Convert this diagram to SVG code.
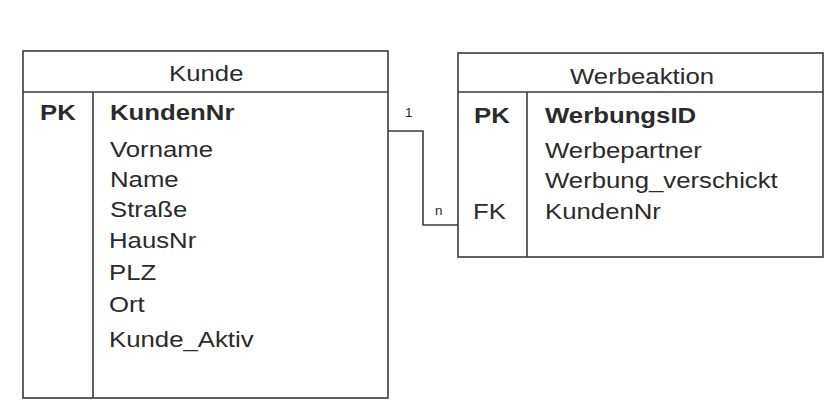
<svg xmlns="http://www.w3.org/2000/svg" width="837" height="410" viewBox="0 0 837 410">
<style>
.box{fill:#fff;stroke:#3a3a3a;stroke-width:1.6}
.ln{stroke:#3a3a3a;stroke-width:1.6;fill:none}
text{font-family:"Liberation Sans",Arial,sans-serif;fill:#2b2b2b;font-size:23px}
.b{font-weight:bold}
.s{font-size:12px}
</style>
<rect width="837" height="410" fill="#fff"/>
<g id="kunde">
<rect class="box" x="23" y="51" width="365" height="347"/>
<line class="ln" x1="23" y1="92" x2="388" y2="92"/>
<line class="ln" x1="93" y1="92" x2="93" y2="398"/>
<text transform="translate(169,81) scale(1.12,1)">Kunde</text>
<text class="b" transform="translate(40,120) scale(1.12,1)">PK</text>
<text class="b" transform="translate(110,120) scale(1.12,1)">KundenNr</text>
<text transform="translate(110,157) scale(1.12,1)">Vorname</text>
<text transform="translate(110,187) scale(1.12,1)">Name</text>
<text transform="translate(110,217) scale(1.12,1)">Straße</text>
<text transform="translate(109,248) scale(1.12,1)">HausNr</text>
<text transform="translate(109,280) scale(1.12,1)">PLZ</text>
<text transform="translate(109,312) scale(1.12,1)">Ort</text>
<text transform="translate(109,347) scale(1.12,1)">Kunde_Aktiv</text>
</g>
<g id="werbeaktion">
<rect class="box" x="458" y="53" width="365" height="204"/>
<line class="ln" x1="458" y1="92" x2="823" y2="92"/>
<line class="ln" x1="527" y1="92" x2="527" y2="257"/>
<text transform="translate(570,84) scale(1.12,1)">Werbeaktion</text>
<text class="b" transform="translate(474,123) scale(1.12,1)">PK</text>
<text class="b" transform="translate(545,123) scale(1.12,1)">WerbungsID</text>
<text transform="translate(545,158) scale(1.12,1)">Werbepartner</text>
<text transform="translate(545,188) scale(1.12,1)">Werbung_verschickt</text>
<text transform="translate(473,219) scale(1.12,1)">FK</text>
<text transform="translate(545,219) scale(1.12,1)">KundenNr</text>
</g>
<g id="connectors">
<polyline class="ln" points="388,131 423,131 423,225 458,225"/>
<text class="s" transform="translate(405,117) scale(1.12,1)">1</text>
<text class="s" transform="translate(435,215) scale(1.12,1)">n</text>
</g>
</svg>
